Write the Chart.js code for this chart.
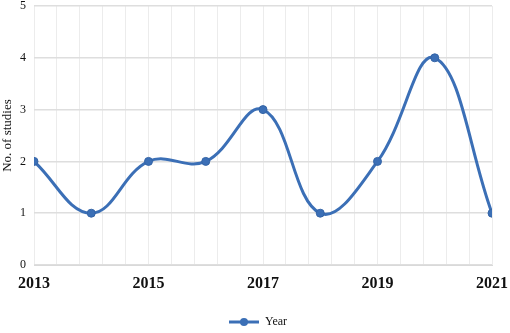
<!DOCTYPE html>
<html>
<head>
<meta charset="utf-8">
<script src="https://cdn.jsdelivr.net/npm/chart.js@4"></script>
<style>
	html, body { margin: 0; padding: 0; background: #fff; }
	#chart { display: block; }
</style>
</head>
<body>
<canvas id="chart" width="510" height="333"></canvas>
<script>
// Values
const years = [2013, 2014, 2015, 2016, 2017, 2018, 2019, 2020, 2021];
const studies = [2, 1, 2, 2, 3, 1, 2, 4, 1];
const seriesName = 'Year';
const yTitle = 'No. of studies';

const blue = '#3b6fb6';

// legend marker: a short line with a dot on it
const marker = document.createElement('canvas');
marker.width = 30;
marker.height = 10;
const mctx = marker.getContext('2d');
mctx.strokeStyle = blue;
mctx.lineWidth = 3;
mctx.beginPath();
mctx.moveTo(0, 5);
mctx.lineTo(30, 5);
mctx.stroke();
mctx.fillStyle = blue;
mctx.beginPath();
mctx.arc(15, 5, 4, 0, Math.PI * 2);
mctx.fill();

// legend is centred on the whole picture, not just the plot
const shiftLegend = {
	id: 'shiftLegend',
	afterLayout(chart) {
		if (chart.legend) {
			chart.legend.left += 12;
			chart.legend.right += 12;
		}
	}
};

const context = document.getElementById('chart').getContext('2d');

new Chart(context, {
	type: 'line',
	data: {
		datasets: [{
			label: seriesName,
			data: years.map((y, i) => ({ x: y, y: studies[i] })),
			borderColor: blue,
			backgroundColor: blue,
			borderWidth: 3,
			tension: 0.4,
			pointRadius: 4,
			pointBackgroundColor: blue,
			pointBorderColor: '#3464a6',
			pointBorderWidth: 1
		}]
	},
	options: {
		responsive: false,
		animation: false,
		layout: { padding: { left: 0, right: 18, top: 6, bottom: -5 } },
		scales: {
			x: {
				type: 'linear',
				min: 2013,
				max: 2021,
				afterFit: (scale) => {
					scale.height = 44;
					scale.paddingLeft = 0;
					scale.paddingRight = 0;
				},
				ticks: {
					stepSize: 0.4,
					autoSkip: false,
					maxRotation: 0,
					color: '#111',
					font: { family: 'Liberation Serif', size: 16, weight: 'bold' },
					padding: 9,
					callback: (v) => {
						const r = Math.round(v);
						return (Math.abs(v - r) < 1e-6 && r % 2 === 1) ? String(r) : '';
					}
				},
				grid: { color: '#ececec', lineWidth: 1, drawTicks: false },
				border: { color: '#d9d9d9' }
			},
			y: {
				min: 0,
				max: 5,
				afterFit: (scale) => {
					scale.width = 34;
					scale.paddingTop = 0;
					scale.paddingBottom = 0;
				},
				ticks: {
					stepSize: 1,
					color: '#111',
					font: { family: 'Liberation Serif', size: 12 },
					padding: 8
				},
				grid: { color: '#dedede', lineWidth: 1.5, drawTicks: false },
				border: { display: false },
				title: {
					display: true,
					text: yTitle,
					color: '#111',
					font: { family: 'Liberation Serif', size: 13 },
					padding: 0
				}
			}
		},
		plugins: {
			legend: {
				position: 'bottom',
				labels: {
					usePointStyle: true,
					pointStyle: marker,
					pointStyleWidth: 30,
					boxHeight: 10,
					color: '#111',
					font: { family: 'Liberation Serif', size: 12 },
					padding: 7
				}
			},
			tooltip: { enabled: false }
		}
	},
	plugins: [shiftLegend]
});
</script>
</body>
</html>
